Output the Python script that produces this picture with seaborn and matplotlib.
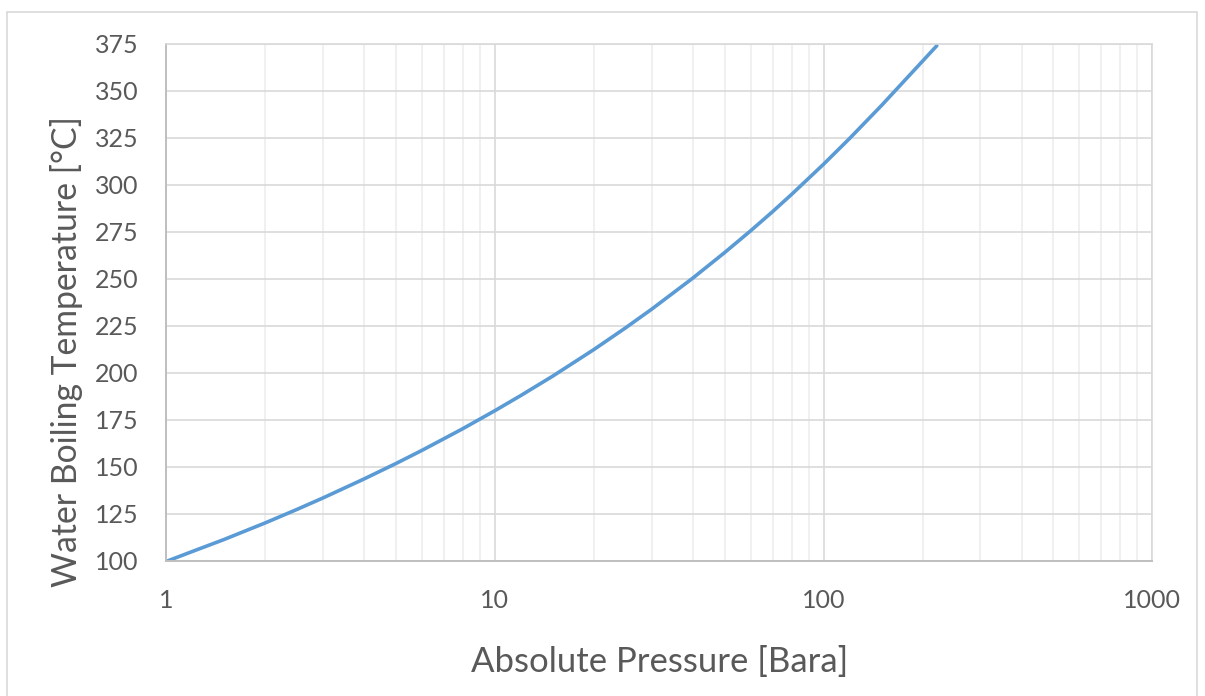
import pandas as pd
import matplotlib.pyplot as plt
import matplotlib.ticker as mticker
import seaborn as sns

# saturation curve
pressure_bara = [1.01, 1.2, 1.5, 2, 2.5, 3, 4, 5, 6, 7, 8, 10, 12, 15, 20, 25,
                 30, 40, 50, 60, 70, 80, 100, 120, 150, 200, 221]
boiling_temp_c = [100, 105, 111.4, 120.2, 127.4, 133.5, 143.6, 151.8, 158.8, 165.0,
                  170.4, 179.9, 188.0, 198.3, 212.4, 224.0, 233.9, 250.4, 264.0,
                  275.6, 285.8, 295.0, 311.0, 324.7, 342.2, 365.8, 374.0]
y_ticks = list(range(100, 376, 25))
x_ticks = [1, 10, 100, 1000]

df = pd.DataFrame({'pressure': pressure_bara, 'temp': boiling_temp_c})

sns.set_theme(style='white')
plt.rcParams['font.family'] = ['Lato', 'DejaVu Sans']

fig = plt.figure(figsize=(12.05, 6.96), dpi=100)
ax = fig.add_axes([0.1378, 0.194, 0.8185, 0.743])

sns.lineplot(data=df, x='pressure', y='temp', ax=ax, color='#5B9BD5', linewidth=2.6)

ax.set_xscale('log')
ax.set_xlim(1, 1000)
ax.set_ylim(100, 375)
ax.set_yticks(y_ticks)
ax.set_xticks(x_ticks)
ax.xaxis.set_major_formatter(mticker.FuncFormatter(lambda v, p: f'{v:g}'))
ax.xaxis.set_minor_locator(mticker.LogLocator(base=10, subs=range(2, 10)))
ax.xaxis.set_minor_formatter(mticker.NullFormatter())

ax.grid(True, which='major', color='#D9D9D9', linewidth=1.2)
ax.grid(True, which='minor', axis='x', color='#EDEDED', linewidth=1.2)
ax.set_axisbelow(True)

for side in ['top', 'right']:
    ax.spines[side].set_color('#D9D9D9')
    ax.spines[side].set_linewidth(1.2)
for side in ['left', 'bottom']:
    ax.spines[side].set_color('#BFBFBF')
    ax.spines[side].set_linewidth(1.4)

ax.tick_params(axis='both', which='both', length=0, labelsize=18, labelcolor='#595959')
ax.tick_params(axis='x', pad=20)
ax.tick_params(axis='y', pad=20)

ax.set_xlabel('Absolute Pressure [Bara]', fontsize=25, color='#595959')
ax.set_ylabel('Water Boiling Temperature [°C]', fontsize=24.3, color='#595959')
ax.xaxis.set_label_coords(0.5, -0.165)
ax.yaxis.set_label_coords(-0.084, 0.406)

fig.patches.append(plt.Rectangle((7 / 1205, -0.01), 1190 / 1205, 1 - 12 / 696 + 0.01,
                                 transform=fig.transFigure, fill=False,
                                 edgecolor='#D9D9D9', linewidth=1.2))

fig.savefig('out.png', dpi=100)
